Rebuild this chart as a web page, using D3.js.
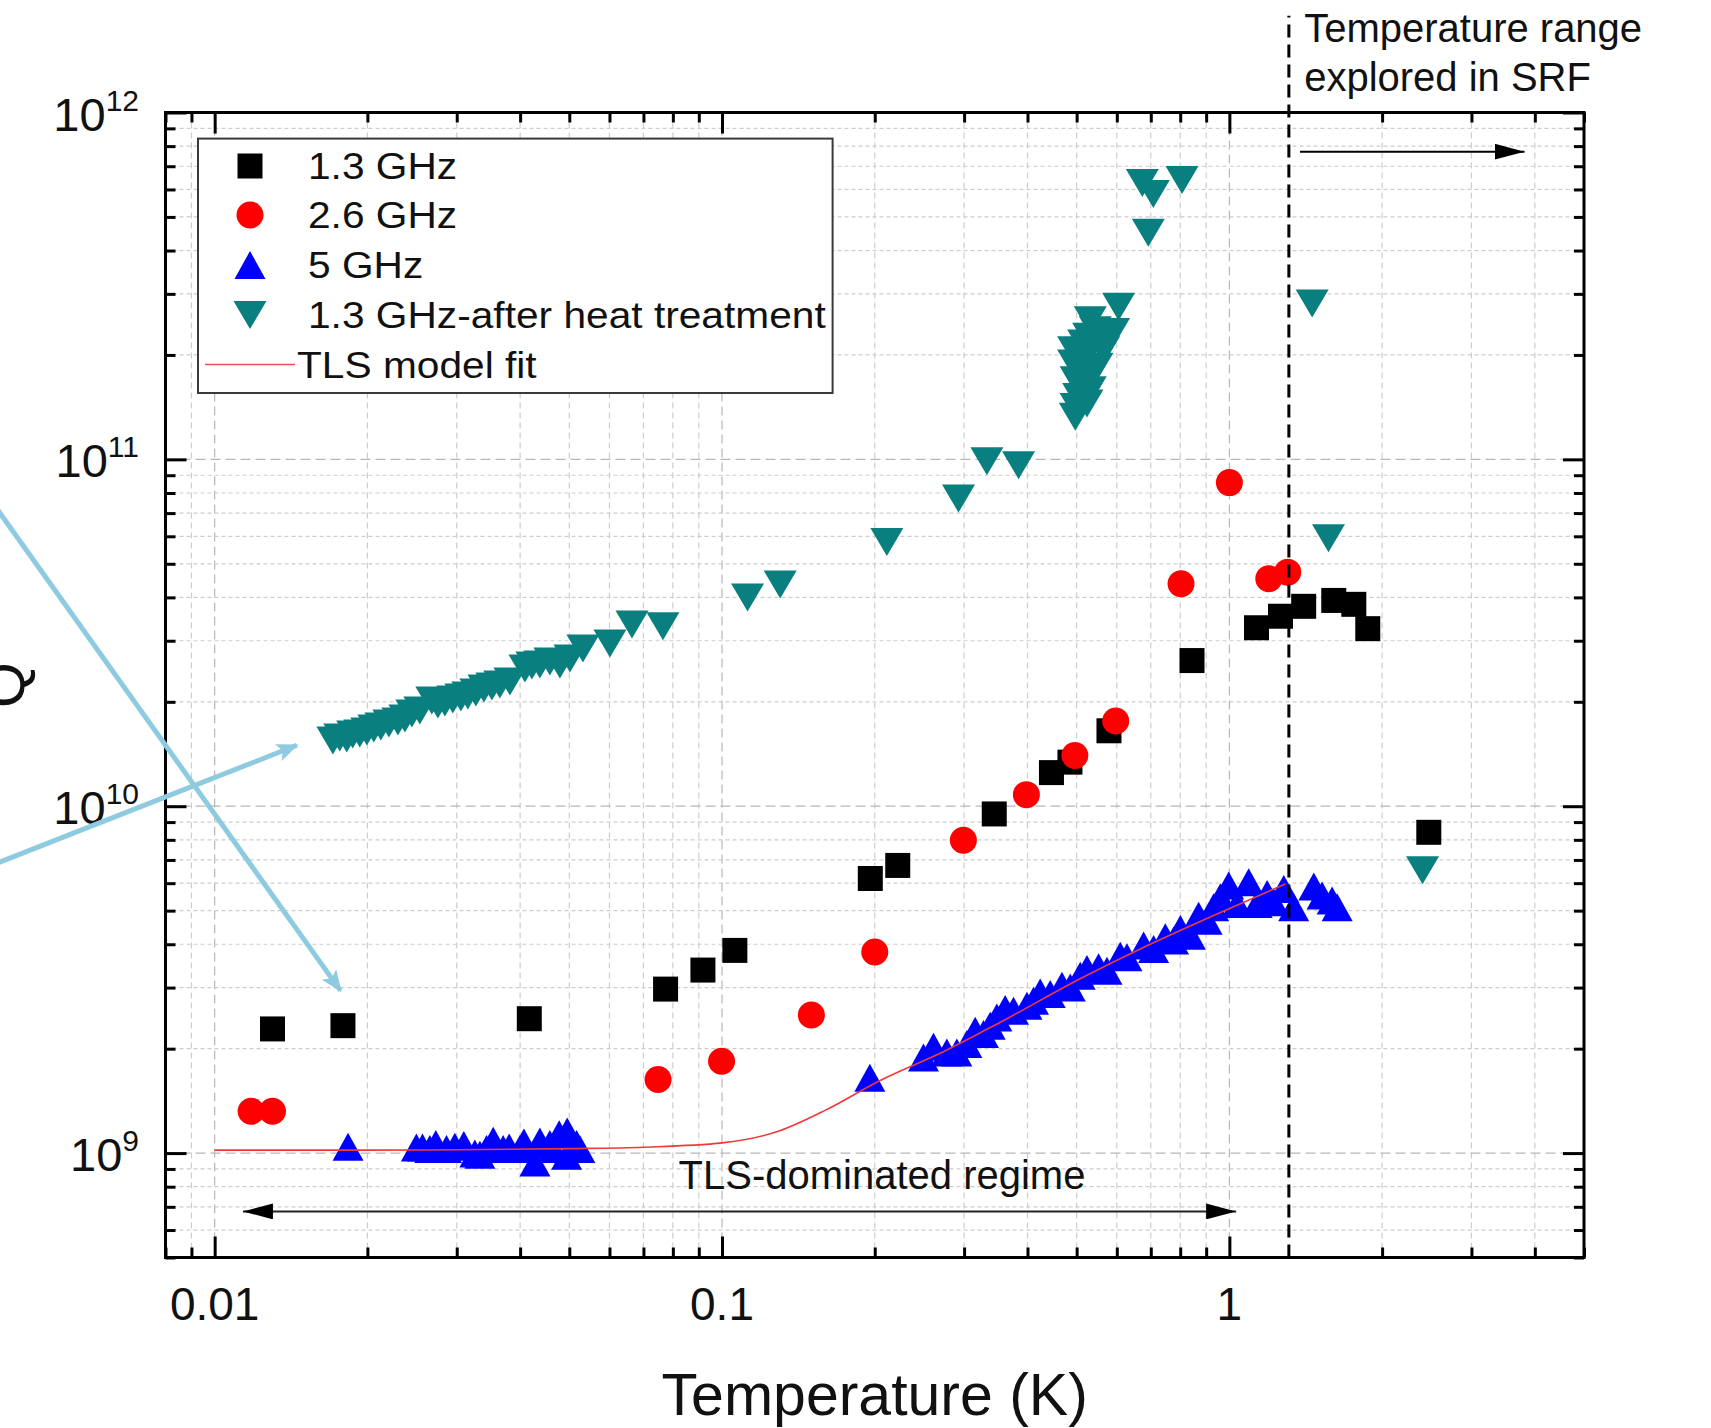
<!DOCTYPE html>
<html>
<head>
<meta charset="utf-8">
<script src="https://cdn.jsdelivr.net/npm/d3@7"></script>
<style>
  html, body { margin: 0; padding: 0; background: #fff; }
  svg { display: block; font-family: "Liberation Sans", Arial, Helvetica, sans-serif; }
</style>
</head>
<body>
<svg id="chart" width="1711" height="1428"></svg>
<script>
// ---------- data: temperature (K) and quality factor Q ----------
// 1.3 GHz
const t13 = [0.0130, 0.0179, 0.0417, 0.0774, 0.0917, 0.106, 0.196, 0.222, 0.344, 0.446,
             0.485, 0.579, 0.844, 1.131, 1.261, 1.401, 1.606, 1.759, 1.874, 2.472];
const q13 = [2.28e9, 2.33e9, 2.44e9, 2.97e9, 3.37e9, 3.84e9, 6.19e9, 6.75e9, 9.5e9, 1.25e10,
             1.34e10, 1.65e10, 2.63e10, 3.27e10, 3.53e10, 3.77e10, 3.92e10, 3.82e10, 3.25e10, 8.41e9];

// 2.6 GHz
const t26 = [0.0118, 0.0130, 0.0748, 0.0998, 0.150, 0.200, 0.299, 0.398, 0.496, 0.597,
             0.803, 1.0, 1.196, 1.303];
const q26 = [1.32e9, 1.32e9, 1.63e9, 1.84e9, 2.50e9, 3.80e9, 7.98e9, 1.08e10, 1.40e10, 1.76e10,
             4.38e10, 8.57e10, 4.53e10, 4.73e10];

// 5 GHz
const t5 = [0.01832, 0.02498, 0.02568, 0.02655, 0.02728, 0.02864, 0.02974, 0.03098, 0.03257, 0.03332,
            0.03435, 0.03540, 0.03704, 0.03806, 0.03996, 0.04069, 0.04278, 0.04375, 0.04578, 0.04649,
            0.04776, 0.04939, 0.04953, 0.05168, 0.05246, 0.1956,
            0.2495, 0.2611, 0.2774, 0.2903, 0.3038, 0.3155, 0.3276, 0.3377, 0.3481, 0.3615,
            0.3754, 0.3990, 0.4111, 0.4238, 0.4435, 0.4677, 0.4857, 0.5082, 0.5239, 0.5523,
            0.5738, 0.6095, 0.6283, 0.6776, 0.7090, 0.7477, 0.7763, 0.8006, 0.8378, 0.8697,
            0.9038, 0.9311, 0.9598, 0.9968, 1.0356, 1.0917, 1.134, 1.187, 1.223, 1.280,
            1.339, 1.467, 1.523, 1.594, 1.631];
const q5 = [1.043e9, 1.038e9, 1.038e9, 1.027e9, 1.062e9, 1.027e9, 1.043e9, 1.056e9, 0.997e9, 0.989e9,
            1.027e9, 1.085e9, 1.027e9, 1.038e9, 1.027e9, 1.073e9, 0.940e9, 1.080e9, 1.062e9, 1.027e9,
            1.134e9, 0.982e9, 1.154e9, 1.062e9, 1.027e9, 1.649e9,
            1.887e9, 2.026e9, 1.951e9, 1.951e9, 2.063e9, 2.253e9, 2.204e9, 2.329e9, 2.461e9, 2.603e9,
            2.574e9, 2.661e9, 2.750e9, 2.906e9, 2.876e9, 3.038e9, 3.004e9, 3.247e9, 3.395e9, 3.431e9,
            3.357e9, 3.708e9, 3.667e9, 3.964e9, 3.878e9, 4.188e9, 4.098e9, 4.429e9, 4.235e9, 4.837e9,
            4.679e9, 5.112e9, 5.463e9, 5.905e9, 5.229e9, 6.036e9, 5.229e9, 5.588e9, 5.284e9, 5.777e9,
            5.112e9, 5.866e9, 5.526e9, 5.344e9, 5.112e9];

// 1.3 GHz after heat treatment
const tHT = [0.0171, 0.01764, 0.01821, 0.01871, 0.01932, 0.01995, 0.02059, 0.02126, 0.02205, 0.02297,
             0.02371, 0.02447, 0.02537, 0.02679, 0.02754, 0.02843, 0.02947, 0.03057, 0.03155, 0.03272,
             0.03394, 0.03519, 0.03648, 0.03819, 0.04088, 0.04220, 0.04375, 0.04578, 0.04791, 0.05015,
             0.05319, 0.06013, 0.06645, 0.07648, 0.1123, 0.1302, 0.2113, 0.2925, 0.3327, 0.3841,
             0.4970, 0.4988, 0.5046, 0.5084, 0.5124, 0.5161, 0.5200, 0.5240, 0.5279, 0.5319,
             0.5442, 0.5913, 0.6049, 0.4931, 0.4988, 0.4931, 0.5651, 0.5483, 0.5319, 0.5240,
             0.5161, 0.5567, 0.6922, 0.7081, 0.6736, 0.8066, 1.456, 1.568, 2.403];
const qHT = [1.547e10, 1.578e10, 1.568e10, 1.610e10, 1.621e10, 1.643e10, 1.676e10, 1.698e10, 1.733e10, 1.756e10,
             1.791e10, 1.851e10, 1.888e10, 2.018e10, 1.965e10, 1.991e10, 2.032e10, 2.059e10, 2.087e10, 2.129e10,
             2.186e10, 2.215e10, 2.245e10, 2.290e10, 2.496e10, 2.547e10, 2.564e10, 2.615e10, 2.564e10, 2.668e10,
             2.851e10, 2.946e10, 3.344e10, 3.300e10, 4.00e10, 4.36e10, 5.78e10, 7.71e10, 9.87e10, 9.62e10,
             1.326e11, 1.416e11, 1.514e11, 1.618e11, 1.729e11, 1.848e11, 1.974e11, 2.110e11, 2.255e11, 2.520e11,
             2.358e11, 2.331e11, 2.753e11, 1.890e11, 1.691e11, 2.064e11, 2.064e11, 1.848e11, 1.582e11, 1.449e11,
             2.158e11, 2.255e11, 4.501e11, 5.821e11, 6.262e11, 6.388e11, 2.813e11, 5.92e10, 6.54e9];

// TLS model fit curve (5 GHz)
const tFit = [0.01, 0.02, 0.03, 0.05, 0.07, 0.10, 0.13, 0.16, 0.205, 0.277, 0.353, 0.508, 0.688, 0.931, 1.29];
const qFit = [1.02e9, 1.02e9, 1.022e9, 1.03e9, 1.04e9, 1.07e9, 1.16e9, 1.33e9, 1.62e9, 1.98e9, 2.38e9, 3.18e9, 3.96e9, 4.84e9, 5.97e9];

// axes
const xDomain = [0.008, 5];
const yDomain = [5e8, 1e12];
const xTickValues = [0.01, 0.1, 1];
const xTickLabels = ["0.01", "0.1", "1"];
const yTickExponents = [9, 10, 11, 12];

// legend
const legendNames = ["1.3 GHz", "2.6 GHz", "5 GHz", "1.3 GHz-after heat treatment", "TLS model fit"];

// annotations (data coordinates)
const srfTemp = 1.31;               // dashed boundary of the SRF range
const srfLineTopQ = 1.9e12;
const srfArrow = { t0: 1.378, t1: 3.817, q: 7.71e11 };
const srfText = { t: 1.404, q1: 1.6e12, q2: 1.156e12 };
const tlsArrow = { t0: 0.01137, t1: 1.031, q: 6.79e8 };
const tlsText = { t: 0.2067, q: 7.86e8 };
const pointerArrows = [
  { t0: 0.003446, q0: 8.44e10, t1: 0.0177, q1: 2.94e9 },
  { t0: 0.003446, q0: 6.55e9, t1: 0.01452, q1: 1.499e10 }
];

// ---------- layout ----------
const plot = { left: 165.5, right: 1584, top: 112.5, bottom: 1257.5 };

const x = d3.scaleLog().domain(xDomain).range([plot.left, plot.right]);
const y = d3.scaleLog().domain(yDomain).range([plot.bottom, plot.top]);

const svg = d3.select("#chart");

const defs = svg.append("defs");
defs.append("marker")
  .attr("id", "blackHead").attr("viewBox", "0 0 30 16")
  .attr("refX", 30).attr("refY", 8)
  .attr("markerWidth", 30).attr("markerHeight", 16)
  .attr("markerUnits", "userSpaceOnUse").attr("orient", "auto-start-reverse")
  .append("path").attr("d", "M0,0 L30,8 L0,16 Z").attr("fill", "#000");
defs.append("marker")
  .attr("id", "blueHead").attr("viewBox", "0 0 22 18")
  .attr("refX", 20).attr("refY", 9)
  .attr("markerWidth", 22).attr("markerHeight", 18)
  .attr("markerUnits", "userSpaceOnUse").attr("orient", "auto")
  .append("path").attr("d", "M0,0 L22,9 L0,18 L5,9 Z").attr("fill", "#8fcbe0");

const isMajor = v => Math.abs(Math.log10(v) - Math.round(Math.log10(v))) < 1e-9;
const xTicksAll = x.ticks();
const yTicksAll = y.ticks();
const inside = (v, dom) => v > dom[0] * 1.0001 && v < dom[1] * 0.9999;

// ---------- grid ----------
const grid = svg.append("g");
grid.selectAll("line.gx").data(xTicksAll.filter(v => inside(v, xDomain))).join("line")
  .attr("x1", d => x(d)).attr("x2", d => x(d))
  .attr("y1", plot.top).attr("y2", plot.bottom)
  .attr("stroke", d => isMajor(d) ? "#b8b8b8" : "#cdcdcd")
  .attr("stroke-width", 1.2)
  .attr("stroke-dasharray", d => isMajor(d) ? "9,5" : "6,4");
grid.selectAll("line.gy").data(yTicksAll.filter(v => inside(v, yDomain))).join("line")
  .attr("x1", plot.left).attr("x2", plot.right)
  .attr("y1", d => y(d)).attr("y2", d => y(d))
  .attr("stroke", d => isMajor(d) ? "#b8b8b8" : "#cdcdcd")
  .attr("stroke-width", 1.2)
  .attr("stroke-dasharray", d => isMajor(d) ? "10,5" : "4,3");

// ---------- markers ----------
const tri = (w, h, up) => up
  ? `M0,${-h / 2}L${w / 2},${h / 2}L${-w / 2},${h / 2}Z`
  : `M0,${h / 2}L${w / 2},${-h / 2}L${-w / 2},${-h / 2}Z`;
const shapes = {
  square: d3.symbol(d3.symbolSquare, 25 * 25)(),
  circle: d3.symbol(d3.symbolCircle, Math.PI * 13.5 * 13.5)(),
  up: tri(31, 28, true),
  down: tri(33, 28, false)
};
const seriesList = [
  { t: t13, q: q13, shape: "square", color: "#000000" },
  { t: t26, q: q26, shape: "circle", color: "#ff0000" },
  { t: t5, q: q5, shape: "up", color: "#0000ff" },
  { t: tHT, q: qHT, shape: "down", color: "#0a7f7f" }
];
const marks = svg.append("g");
seriesList.forEach(s => {
  const pts = s.t.map((t, i) => [t, s.q[i]]);
  marks.append("g").selectAll("path").data(pts).join("path")
    .attr("d", shapes[s.shape])
    .attr("transform", d => `translate(${x(d[0])},${y(d[1])})`)
    .attr("fill", s.color);
});

// TLS fit
const fitPts = tFit.map((t, i) => [t, qFit[i]]);
svg.append("path")
  .datum(fitPts)
  .attr("d", d3.line().x(d => x(d[0])).y(d => y(d[1])).curve(d3.curveMonotoneX))
  .attr("fill", "none").attr("stroke", "#f03a3a").attr("stroke-width", 1.6);

// ---------- frame and ticks ----------
const tickG = svg.append("g");
const styleAxis = g => {
  g.select(".domain").remove();
  g.selectAll(".tick line").attr("stroke", "#000").attr("stroke-width", 3);
  g.selectAll(".tick text").remove();
};
const xMinor = xTicksAll.filter(v => !isMajor(v));
const yMinor = yTicksAll.filter(v => !isMajor(v));
const xMajor = xTicksAll.filter(isMajor);
const yMajor = yTicksAll.filter(isMajor);
[[xMinor, 10], [xMajor, 21]].forEach(([vals, len]) => {
  tickG.append("g").attr("transform", `translate(0,${plot.bottom})`)
    .call(d3.axisBottom(x).tickValues(vals).tickSize(-len)).call(styleAxis);
  tickG.append("g").attr("transform", `translate(0,${plot.top})`)
    .call(d3.axisTop(x).tickValues(vals).tickSize(-len)).call(styleAxis);
});
[[yMinor, 10], [yMajor, 21]].forEach(([vals, len]) => {
  tickG.append("g").attr("transform", `translate(${plot.left},0)`)
    .call(d3.axisLeft(y).tickValues(vals).tickSize(-len)).call(styleAxis);
  tickG.append("g").attr("transform", `translate(${plot.right},0)`)
    .call(d3.axisRight(y).tickValues(vals).tickSize(-len)).call(styleAxis);
});
svg.append("rect")
  .attr("x", plot.left).attr("y", plot.top)
  .attr("width", plot.right - plot.left).attr("height", plot.bottom - plot.top)
  .attr("fill", "none").attr("stroke", "#000").attr("stroke-width", 3);

// tick labels
svg.append("g").selectAll("text").data(xTickValues).join("text")
  .attr("x", d => x(d)).attr("y", 1320)
  .attr("text-anchor", "middle").attr("font-size", 46).attr("fill", "#111")
  .text((d, i) => xTickLabels[i]);

const yl = svg.append("g").selectAll("text").data(yTickExponents).join("text")
  .attr("x", 139).attr("y", d => y(Math.pow(10, d)) + 18)
  .attr("text-anchor", "end").attr("fill", "#111");
yl.append("tspan").attr("font-size", 47).text("10");
yl.append("tspan").attr("font-size", 30).attr("dy", -20).text(d => d);

// axis titles
svg.append("text")
  .attr("x", (plot.left + plot.right) / 2).attr("y", 1415)
  .attr("text-anchor", "middle").attr("font-size", 59).attr("fill", "#111")
  .text("Temperature (K)");
svg.append("text")
  .attr("transform", `translate(24,${(plot.top + plot.bottom) / 2}) rotate(-90)`)
  .attr("text-anchor", "middle").attr("font-size", 59).attr("fill", "#111")
  .text("Q");

// ---------- annotations ----------
// SRF boundary
svg.append("line")
  .attr("x1", x(srfTemp)).attr("x2", x(srfTemp))
  .attr("y1", y(yDomain[0])).attr("y2", y(srfLineTopQ))
  .attr("stroke", "#000").attr("stroke-width", 3).attr("stroke-dasharray", "13,7");
svg.append("line")
  .attr("x1", x(srfArrow.t0)).attr("x2", x(srfArrow.t1))
  .attr("y1", y(srfArrow.q)).attr("y2", y(srfArrow.q))
  .attr("stroke", "#000").attr("stroke-width", 2).attr("marker-end", "url(#blackHead)");
const srfLabel = svg.append("g").attr("font-size", 40).attr("fill", "#111");
srfLabel.append("text").attr("x", x(srfText.t)).attr("y", y(srfText.q1)).text("Temperature range");
srfLabel.append("text").attr("x", x(srfText.t)).attr("y", y(srfText.q2)).text("explored in SRF");

// TLS regime
svg.append("line")
  .attr("x1", x(tlsArrow.t0)).attr("x2", x(tlsArrow.t1))
  .attr("y1", y(tlsArrow.q)).attr("y2", y(tlsArrow.q))
  .attr("stroke", "#222").attr("stroke-width", 2)
  .attr("marker-start", "url(#blackHead)").attr("marker-end", "url(#blackHead)");
svg.append("text")
  .attr("x", x(tlsText.t)).attr("y", y(tlsText.q))
  .attr("text-anchor", "middle").attr("font-size", 40).attr("fill", "#111")
  .text("TLS-dominated regime");

// ---------- legend ----------
const lg = svg.append("g");
lg.append("rect").attr("x", 198).attr("y", 138.6).attr("width", 634.6).attr("height", 254.4)
  .attr("fill", "#fff").attr("stroke", "#3a3a3a").attr("stroke-width", 2);
const rowY = [166, 215, 265, 315, 364.5];
const legendShapes = ["square", "circle", "up", "down"];
const legendColors = ["#000000", "#ff0000", "#0000ff", "#0a7f7f"];
legendShapes.forEach((s, i) => {
  lg.append("path").attr("d", shapes[s])
    .attr("transform", `translate(250,${rowY[i]})`).attr("fill", legendColors[i]);
  lg.append("text")
    .attr("transform", `translate(308,${rowY[i] + 13}) scale(1.13,1)`)
    .attr("font-size", 36).attr("fill", "#111").text(legendNames[i]);
});
lg.append("line").attr("x1", 205).attr("x2", 295).attr("y1", rowY[4]).attr("y2", rowY[4])
  .attr("stroke", "#f05050").attr("stroke-width", 1.6);
lg.append("text")
  .attr("transform", `translate(297,${rowY[4] + 13}) scale(1.13,1)`)
  .attr("font-size", 36).attr("fill", "#111").text(legendNames[4]);

// ---------- light-blue pointer arrows ----------
svg.append("g").selectAll("line").data(pointerArrows).join("line")
  .attr("x1", d => x(d.t0)).attr("y1", d => y(d.q0))
  .attr("x2", d => x(d.t1)).attr("y2", d => y(d.q1))
  .attr("stroke", "#8fcbe0").attr("stroke-width", 5)
  .attr("marker-end", "url(#blueHead)");
</script>
</body>
</html>
